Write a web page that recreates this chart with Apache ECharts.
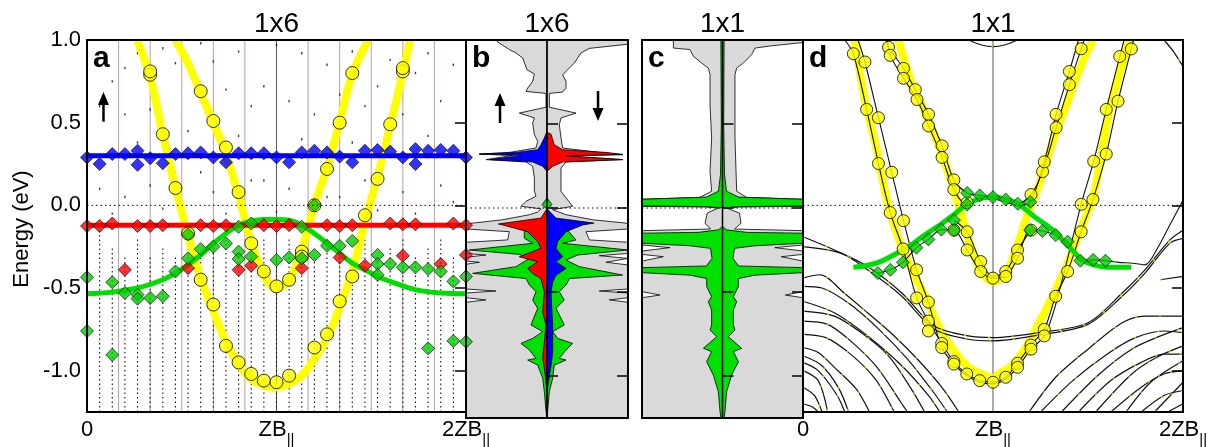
<!DOCTYPE html>
<html><head><meta charset="utf-8">
<script src="https://cdn.jsdelivr.net/npm/echarts@6/dist/echarts.min.js"></script>
<style>html,body{margin:0;padding:0;background:#fff}#c{width:1223px;height:447px}</style>
</head><body><div id="c"></div>
<script>
const FONT = '"Liberation Sans", Arial, Helvetica, sans-serif';
// ---------------- axis / labels ----------------
const Y_MIN = -1.25, Y_MAX = 1.0;
const yTicks = [-1.0, -0.5, 0.0, 0.5, 1.0];
const xTickLabels = [['0', ''], ['ZB', '||'], ['2ZB', '||']];
const titles = ['1x6', '1x6', '1x1', '1x1'];
const panelLetters = ['a', 'b', 'c', 'd'];
const yName = 'Energy (eV)';

// ---------------- panel a (1x6 bands, k index in 1/15 ZB) ----------------
const kPerZB = 15;
const aFoldK = [2.5, 5, 7.5, 10, 12.5, 17.5, 20, 22.5, 25, 27.5];
const aCenterK = [15];
const aBlue = [[0,0.29],[1,0.25],[2,0.31],[3,0.31],[4,0.33],[4,0.245],[5,0.285],[6,0.255],[7,0.31],[8,0.315],[9,0.32],[10,0.29],[11,0.26],[12,0.315],[13,0.315],[14,0.315],[15,0.29],[16,0.26],[17,0.32],[18,0.33],[19,0.32],[20,0.295],[21,0.26],[22,0.33],[23,0.335],[24,0.325],[25,0.29],[26,0.34],[26,0.25],[27,0.33],[28,0.335],[29,0.33],[30,0.29]];
const aRed = [[0,-0.125],[1,-0.125],[2,-0.11],[4,-0.125],[5,-0.125],[6,-0.12],[9,-0.12],[10,-0.125],[11,-0.12],[14,-0.12],[15,-0.125],[16,-0.12],[19,-0.12],[20,-0.125],[21,-0.12],[24,-0.11],[25,-0.115],[26,-0.115],[29,-0.11],[30,-0.12],
  [3,-0.39],[8,-0.38],[12,-0.39],[13,-0.365],[17,-0.38],[20,-0.315],[22,-0.365],[25,-0.305],[28,-0.355],[30,-0.30]];
const aGreen = [[0,-0.435],[0,-0.76],[2,-0.465],[2,-0.905],[3,-0.53],[4,-0.54],[4,-0.565],[5,-0.56],[6,-0.55],[7,-0.40],[8,-0.32],[8,-0.175],[9,-0.265],[10,-0.25],[11,-0.23],[12,-0.13],[12,-0.28],[12,-0.325],[13,-0.11],[13,-0.31],[15,-0.33],[16,-0.315],[17,-0.13],[17,-0.32],[18,-0.30],[18,0.0],[19,-0.245],[20,-0.245],[21,-0.215],[23,-0.30],[23,-0.355],[23,-0.42],[24,-0.355],[25,-0.375],[26,-0.375],[27,-0.385],[27,-0.865],[28,-0.40],[29,-0.46],[29,-0.82],[30,-0.43],[30,-0.825]];
const aCircles = [[5,0.79],[5,0.81],[6,0.43],[7,0.105],[8,-0.17],[9,0.69],[9,-0.45],[10,0.51],[10,-0.60],[11,0.35],[11,-0.85],[12,0.08],[12,-0.95],[13,-0.23],[13,-1.02],[14,-0.40],[14,-1.06],[15,-0.49],[15,-1.07],[16,-0.45],[16,-1.03],[17,-0.28],[17,-0.31],[18,0.0],[18,-0.86],[19,0.22],[19,-0.78],[20,0.50],[20,-0.58],[21,0.80],[21,-0.43],[22,-0.06],[23,0.16],[24,0.49],[25,0.81],[25,0.83]];
const aYellowWide = [[0.264,1.0],[0.333,0.78],[0.4,0.43],[0.467,0.11],[0.533,-0.18],[0.6,-0.44],[0.667,-0.64],[0.733,-0.82],[0.8,-0.96],[0.867,-1.05],[0.933,-1.09],[1.0,-1.1],[1.067,-1.08],[1.133,-1.03],[1.2,-0.93],[1.267,-0.8],[1.333,-0.62],[1.4,-0.4],[1.467,-0.1],[1.533,0.17],[1.6,0.48],[1.667,0.8],[1.705,1.0]];
const aYellowNarrow = [[0.465,1.0],[0.533,0.86],[0.6,0.68],[0.667,0.5],[0.733,0.31],[0.8,0.06],[0.867,-0.22],[0.933,-0.42],[1.0,-0.5],[1.067,-0.45],[1.133,-0.27],[1.2,0.0],[1.267,0.23],[1.333,0.5],[1.4,0.79],[1.485,1.0]];
const aBlueLine = [[0,0.30],[2,0.30]];
const aRedLine = [[0,-0.12],[2,-0.12]];
const aGreenLine = [[0,-0.535],[0.133,-0.525],[0.267,-0.5],[0.4,-0.45],[0.467,-0.41],[0.533,-0.36],[0.6,-0.30],[0.667,-0.23],[0.733,-0.17],[0.8,-0.12],[0.867,-0.095],[0.933,-0.085],[1.0,-0.085],[1.067,-0.09],[1.133,-0.12],[1.2,-0.17],[1.267,-0.23],[1.333,-0.29],[1.4,-0.35],[1.467,-0.39],[1.533,-0.43],[1.6,-0.46],[1.733,-0.51],[1.867,-0.53],[2.0,-0.535]];
const aDenseTop = [-0.55,-0.15,-0.25,-0.3,-0.2,-0.3,-0.25,-0.3,-0.2,-0.3,-0.25,-0.2,-0.3,-0.25,-0.2,-0.3,-0.2,-0.25,-0.3,-0.2,-0.25,-0.3,-0.2,-0.3,-0.25,-0.2,-0.3,-0.25,-0.2,-0.3,-0.45];
const aSparseDots = [[3,0.83],[3,0.55],[4,0.92],[5,0.58],[6,0.95],[7,0.86],[8,0.9],[9,0.98],[9,0.2],[10,0.87],[11,0.7],[12,0.93],[13,0.6],[14,0.72],[14,0.15],[15,0.97],[16,0.63],[17,0.92],[18,0.55],[19,0.85],[20,0.67],[21,0.93],[22,0.6],[23,0.72],[24,0.88],[25,0.55],[26,0.8],[27,0.92],[28,0.63],[29,0.85],[1,0.6],[2,0.75],[0,0.4],
  [1,0.1],[3,0.05],[5,0.12],[7,0.2],[10,0.08],[13,0.15],[16,0.1],[19,0.05],[22,0.15],[25,0.08],[28,0.12],[2,-0.05],[4,0.38],[6,-0.02],[8,0.45],[11,-0.05],[12,0.42],[15,-0.04],[17,0.4],[18,-0.06],[20,0.05],[21,0.38],[23,-0.03],[24,0.4],[26,-0.05],[27,0.42],[29,0.02],[30,0.45],[0,-0.05]];

// ---------------- panel b (1x6 DOS, left = spin up, right = spin down) ----------------
const bGrayUp = [[0,1.0],[-0.61,1.0],[-0.61,0.988],[-0.465,0.943],[-0.383,0.923],[-0.30,0.893],[-0.247,0.823],[-0.156,0.798],[-0.177,0.754],[-0.239,0.714],[-0.259,0.694],[-0.012,0.682],[-0.012,0.6],[-0.342,0.565],[-0.156,0.536],[-0.177,0.506],[-0.156,0.437],[-0.115,0.397],[-0.136,0.357],[-0.465,0.331],[-0.835,0.321],[-0.424,0.313],[-0.753,0.288],[-0.259,0.274],[-0.177,0.248],[-0.156,0.179],[-0.156,0.1],[-0.136,0.07],[-0.259,0.04],[-0.32,0.01],[-0.074,-0.005],[-0.115,-0.024],[-0.218,-0.04],[-0.547,-0.07],[-0.918,-0.09],[-1,-0.099],[-1,-0.125],[-0.465,-0.141],[-0.486,-0.19],[-1,-0.204],[-1,-0.27],[-0.753,-0.28],[-1,-0.293],[-1,-0.316],[-0.835,-0.323],[-1,-0.335],[-1,-0.482],[-0.63,-0.494],[-1,-0.506],[-1,-0.534],[-0.753,-0.547],[-1,-0.561],[-1,-1.25],[0,-1.25]];
const bGrayDown = [[0,1.0],[1,1.0],[1,0.975],[0.523,0.95],[0.42,0.923],[0.337,0.863],[0.255,0.823],[0.193,0.792],[0.235,0.754],[0.235,0.714],[0.193,0.69],[0.029,0.682],[0.029,0.6],[0.358,0.565],[0.173,0.536],[0.152,0.496],[0.173,0.417],[0.193,0.357],[0.646,0.331],[0.934,0.317],[0.235,0.31],[0.934,0.288],[0.235,0.274],[0.173,0.238],[0.173,0.1],[0.235,0.06],[0.317,0.01],[0.07,-0.01],[0.235,-0.04],[0.564,-0.07],[0.975,-0.09],[1,-0.099],[1,-0.125],[0.481,-0.141],[0.523,-0.19],[1,-0.204],[1,-0.27],[0.646,-0.284],[1,-0.3],[0.728,-0.323],[1,-0.339],[1,-0.482],[0.646,-0.494],[1,-0.506],[1,-0.534],[0.77,-0.547],[1,-0.561],[1,-1.25],[0,-1.25]];
const bBlueUp = [[0,0.456],[-0.033,0.417],[-0.074,0.377],[-0.115,0.347],[-0.383,0.331],[-0.835,0.321],[-0.30,0.313],[-0.712,0.288],[-0.177,0.274],[-0.053,0.248],[0,0.218]];
const bRedDown = [[0,0.45],[0.049,0.44],[0.09,0.377],[0.193,0.347],[0.728,0.331],[0.934,0.319],[0.235,0.31],[0.934,0.288],[0.193,0.274],[0.07,0.248],[0,0.218]];
const bRedUp = [[0,-0.005],[-0.074,-0.06],[-0.6,-0.095],[-0.547,-0.101],[-0.239,-0.141],[-0.115,-0.2],[-0.074,-0.24],[-0.342,-0.29],[-0.115,-0.32],[-0.239,-0.36],[-0.177,-0.39],[-0.074,-0.42],[-0.033,-0.5],[-0.053,-0.62],[-0.012,-0.70],[-0.053,-0.89],[-0.02,-1.0],[0,-1.09]];
const bBlueDown = [[0,-0.005],[0.111,-0.06],[0.58,-0.09],[0.44,-0.101],[0.235,-0.141],[0.132,-0.2],[0.111,-0.24],[0.193,-0.29],[0.111,-0.32],[0.235,-0.36],[0.111,-0.40],[0.07,-0.44],[0.049,-0.5],[0.07,-0.70],[0.07,-0.86],[0.049,-0.94],[0,-1.09]];
const bGreenUp = [[0,-0.10],[-0.28,-0.121],[-0.28,-0.18],[-0.177,-0.21],[-0.959,-0.25],[-0.342,-0.276],[-0.218,-0.3],[-0.383,-0.349],[-0.918,-0.389],[-0.259,-0.42],[-0.218,-0.458],[-0.136,-0.498],[-0.177,-0.548],[-0.115,-0.597],[-0.198,-0.696],[-0.053,-0.736],[-0.177,-0.776],[-0.321,-0.806],[-0.218,-0.845],[-0.136,-0.895],[-0.239,-0.905],[-0.115,-0.935],[-0.053,-1.014],[-0.033,-1.093],[-0.012,-1.21],[0,-1.25]];
const bGreenDown = [[0,-0.10],[0.235,-0.121],[0.358,-0.19],[0.193,-0.21],[1.0,-0.25],[0.379,-0.28],[0.235,-0.31],[0.4,-0.349],[0.934,-0.399],[0.276,-0.42],[0.235,-0.458],[0.152,-0.498],[0.214,-0.548],[0.111,-0.597],[0.214,-0.696],[0.07,-0.736],[0.132,-0.776],[0.317,-0.806],[0.235,-0.845],[0.152,-0.895],[0.235,-0.905],[0.09,-0.935],[0.07,-1.014],[0.029,-1.093],[0.008,-1.21],[0,-1.25]];
const bGreenNearEf = [[0,0.06],[-0.06,0.02],[-0.02,0.0],[0.02,0.0],[0.06,0.02]];

// ---------------- panel c (1x1 DOS) ----------------
const cGrayUp = [[0,1.0],[-0.61,1.0],[-0.61,0.952],[-0.404,0.943],[-0.362,0.903],[-0.259,0.863],[-0.176,0.833],[-0.155,0.794],[-0.155,0.615],[-0.135,0.417],[-0.155,0.218],[-0.135,0.1],[-0.28,0.063],[-1,0.052],[-1,0.01],[-0.2,0.006],[-0.05,0.0],[-0.19,-0.03],[-0.217,-0.09],[-0.15,-0.125],[-1,-0.135],[-1,-0.17],[-0.694,-0.184],[-1,-0.2],[-1,-0.22],[-0.652,-0.236],[-1,-0.256],[-1,-0.276],[-0.735,-0.29],[-1,-0.316],[-1,-0.498],[-0.776,-0.518],[-1,-0.534],[-1,-1.25],[0,-1.25]];
const cGrayDown = [[0,1.0],[1,1.0],[1,0.985],[0.6,0.965],[0.404,0.952],[0.362,0.913],[0.259,0.863],[0.176,0.833],[0.155,0.794],[0.155,0.417],[0.176,0.1],[0.3,0.063],[1,0.052],[1,0.01],[0.2,0.006],[0.05,0.0],[0.21,-0.03],[0.23,-0.09],[0.15,-0.125],[1,-0.135],[1,-0.17],[0.69,-0.184],[1,-0.2],[1,-0.22],[0.65,-0.236],[1,-0.256],[1,-0.276],[0.73,-0.29],[1,-0.316],[1,-0.498],[0.78,-0.518],[1,-0.534],[1,-1.25],[0,-1.25]];
const cGreenUpper = [[0,1.0],[-0.02,1.0],[-0.015,0.5],[-0.025,0.2],[-0.05,0.1],[-0.2,0.065],[-1,0.052],[-1,0.012],[-0.2,0.008],[0,0.0]];
const cGreenLower = [[0,-0.11],[-0.05,-0.13],[-0.3,-0.145],[-1,-0.15],[-1,-0.21],[-0.4,-0.225],[-0.15,-0.24],[-0.13,-0.30],[-0.2,-0.345],[-1,-0.355],[-1,-0.385],[-0.4,-0.40],[-0.197,-0.42],[-0.197,-0.468],[-0.135,-0.528],[-0.176,-0.558],[-0.135,-0.607],[-0.135,-0.696],[-0.155,-0.726],[-0.072,-0.766],[-0.238,-0.835],[-0.135,-0.855],[-0.197,-0.915],[-0.114,-0.994],[-0.052,-1.093],[-0.031,-1.21],[-0.02,-1.25],[0,-1.25]];

// ---------------- panel d (1x1 bands, x in ZB units) ----------------
const dYellowWide = [[0.273,1.0],[0.326,0.64],[0.388,0.34],[0.44,0.045],[0.5,-0.19],[0.573,-0.39],[0.644,-0.55],[0.714,-0.73],[0.785,-0.865],[0.873,-0.98],[0.96,-1.03],[1.0,-1.045],[1.03,-1.02],[1.1,-0.97],[1.173,-0.86],[1.243,-0.71],[1.314,-0.55],[1.393,-0.35],[1.464,-0.14],[1.526,0.05],[1.57,0.3],[1.614,0.58],[1.676,0.84],[1.72,1.0]];
const dYellowNarrow = [[0.503,1.0],[0.573,0.74],[0.644,0.56],[0.714,0.36],[0.776,0.16],[0.82,0.0],[0.873,-0.21],[0.935,-0.39],[1.0,-0.46],[1.067,-0.41],[1.12,-0.27],[1.19,-0.03],[1.243,0.125],[1.314,0.38],[1.384,0.6],[1.455,0.82],[1.526,1.0]];
const dGreenLine = [[0.265,-0.375],[0.33,-0.365],[0.397,-0.345],[0.47,-0.305],[0.556,-0.25],[0.64,-0.18],[0.732,-0.11],[0.8,-0.05],[0.855,0.0],[0.93,0.04],[1.0,0.05],[1.07,0.035],[1.137,0.005],[1.22,-0.07],[1.314,-0.15],[1.4,-0.25],[1.47,-0.33],[1.53,-0.36],[1.6,-0.374],[1.728,-0.374]];
const dDiamonds = [[0.394,-0.41],[0.46,-0.39],[0.526,-0.345],[0.597,-0.256],[0.66,-0.206],[0.728,-0.147],[0.795,-0.09],[0.795,-0.15],[0.864,0.005],[0.864,0.075],[0.93,0.06],[1.0,0.05],[1.067,0.035],[1.13,0.01],[1.196,0.02],[1.196,-0.15],[1.26,-0.155],[1.33,-0.18],[1.393,-0.22],[1.46,-0.335],[1.527,-0.33],[1.592,-0.335]];
const dCircles = [[0.265,0.917],[0.326,0.867],[0.335,0.58],[0.397,0.53],[0.397,0.253],[0.467,0.2],[0.459,-0.044],[0.529,-0.093],[0.527,-0.264],[0.598,-0.39],[0.598,-0.56],[0.66,-0.585],[0.66,-0.70],[0.66,-0.76],[0.73,-0.835],[0.73,-0.86],[0.794,-0.945],[0.794,-0.96],[0.862,-1.02],[0.93,-1.06],[1.0,-1.07],[1.067,-1.04],[1.129,-0.955],[1.129,-0.98],[1.2,-0.845],[1.2,-0.87],[1.27,-0.75],[1.27,-0.79],[1.33,-0.55],[1.393,-0.40],[1.464,-0.16],[1.464,0.006],[1.526,0.035],[1.53,0.267],[1.596,0.31],[1.596,0.58],[1.658,0.63],[1.667,0.90],[1.728,0.946],
  [0.45,0.956],[0.459,0.907],[0.529,0.828],[0.529,0.768],[0.591,0.70],[0.6,0.64],[0.661,0.55],[0.661,0.48],[0.732,0.36],[0.732,0.29],[0.794,0.154],[0.794,0.095],[0.864,0.016],[0.794,-0.15],[0.864,-0.16],[0.864,-0.27],[0.935,-0.34],[0.935,-0.40],[1.0,-0.44],[1.067,-0.40],[1.067,-0.43],[1.129,-0.27],[1.129,-0.32],[1.2,-0.15],[1.2,0.065],[1.261,0.204],[1.27,0.263],[1.332,0.47],[1.332,0.55],[1.402,0.73],[1.402,0.81],[1.464,0.947]];
const dFitBands = [
  [[0.22,1.0],[0.265,0.917],[0.335,0.58],[0.397,0.253],[0.459,-0.044],[0.527,-0.264],[0.598,-0.56],[0.66,-0.70],[0.73,-0.835],[0.794,-0.945],[0.862,-1.02],[0.93,-1.06],[1.0,-1.07],[1.067,-1.04],[1.129,-0.955],[1.2,-0.845],[1.27,-0.75],[1.33,-0.55],[1.393,-0.40],[1.464,-0.16],[1.526,0.035],[1.596,0.31],[1.658,0.63],[1.728,0.946],[1.74,1.0]],
  [[0.29,1.0],[0.326,0.867],[0.397,0.53],[0.467,0.2],[0.529,-0.093],[0.598,-0.39],[0.66,-0.585],[0.73,-0.86],[0.794,-0.96],[0.862,-1.03],[0.93,-1.07],[1.0,-1.08],[1.067,-1.05],[1.129,-0.98],[1.2,-0.87],[1.27,-0.79],[1.33,-0.6],[1.464,0.006],[1.53,0.267],[1.596,0.58],[1.667,0.9],[1.69,1.0]],
  [[0.437,1.0],[0.45,0.956],[0.529,0.828],[0.591,0.70],[0.661,0.55],[0.732,0.36],[0.794,0.154],[0.864,0.075],[0.93,0.06],[1.0,0.05],[1.067,0.035],[1.13,0.01],[1.2,0.065],[1.261,0.204],[1.332,0.47],[1.402,0.73],[1.464,0.947],[1.48,1.0]],
  [[0.445,1.0],[0.459,0.907],[0.529,0.768],[0.6,0.64],[0.661,0.48],[0.732,0.29],[0.794,0.095],[0.864,0.005],[0.93,0.045],[1.0,0.04],[1.067,0.02],[1.13,0.0],[1.196,0.02],[1.27,0.263],[1.332,0.55],[1.402,0.81],[1.45,1.0]],
  [[0.394,-0.41],[0.46,-0.39],[0.526,-0.345],[0.597,-0.256],[0.66,-0.206],[0.728,-0.147],[0.795,-0.15],[0.864,-0.27],[0.935,-0.40],[1.0,-0.44],[1.067,-0.43],[1.129,-0.32],[1.196,-0.15],[1.26,-0.155],[1.33,-0.18],[1.393,-0.22],[1.46,-0.335],[1.527,-0.33],[1.592,-0.335],[1.66,-0.345],[1.735,-0.35],[1.8,-0.36],[1.87,-0.25],[1.93,-0.12],[2.0,0.03]],
  [[0.795,-0.09],[0.864,-0.16],[0.935,-0.34],[1.0,-0.43],[1.067,-0.40],[1.129,-0.27],[1.2,-0.15]]
];
const dBulkBands = [
  [[0.87,1.0],[0.94,0.97],[1.0,0.96],[1.06,0.97],[1.13,1.0]],
  [[1.9,1.0],[1.95,0.93],[2.0,0.84]],
  [[0,-0.19],[0.165,-0.27],[0.34,-0.37],[0.52,-0.53],[0.69,-0.73],[0.87,-0.79],[1.0,-0.80],[1.24,-0.77],[1.5,-0.71],[1.68,-0.53],[1.8,-0.39],[1.93,-0.21],[2.0,-0.15]],
  [[0,-0.25],[0.2,-0.29],[0.34,-0.39],[0.52,-0.55],[0.69,-0.75],[0.87,-0.81],[1.0,-0.82],[1.24,-0.785],[1.5,-0.72],[1.68,-0.55],[1.8,-0.41],[1.93,-0.23],[2.0,-0.2]],
  [[0,-0.44],[0.09,-0.42],[0.216,-0.53],[0.34,-0.65],[0.48,-0.79],[0.61,-0.94],[0.73,-1.10],[0.82,-1.25]],
  [[0,-0.49],[0.1,-0.50],[0.25,-0.6],[0.4,-0.75],[0.55,-0.93],[0.68,-1.12],[0.76,-1.25]],
  [[0,-0.58],[0.165,-0.65],[0.34,-0.79],[0.52,-0.97],[0.66,-1.15],[0.72,-1.25]],
  [[0,-0.64],[0.165,-0.67],[0.306,-0.77],[0.45,-0.91],[0.57,-1.11],[0.64,-1.25]],
  [[0,-0.70],[0.13,-0.72],[0.25,-0.82],[0.39,-0.98],[0.52,-1.20],[0.55,-1.25]],
  [[0,-0.78],[0.12,-0.8],[0.25,-0.9],[0.38,-1.05],[0.48,-1.25]],
  [[0,-0.86],[0.08,-0.89],[0.165,-0.98],[0.28,-1.11],[0.35,-1.25]],
  [[0,-0.91],[0.1,-0.97],[0.19,-1.11],[0.24,-1.25]],
  [[0,-0.95],[0.08,-1.0],[0.18,-1.15],[0.22,-1.25]],
  [[0,-1.0],[0.08,-1.06],[0.13,-1.25]],
  [[0,-1.1],[0.06,-1.15],[0.1,-1.25]],
  [[0,-1.2],[0.05,-1.22],[0.08,-1.25]],
  [[1.19,-1.25],[1.33,-1.04],[1.5,-0.87],[1.68,-0.71],[1.8,-0.67],[2.0,-0.67]],
  [[1.25,-1.25],[1.42,-1.06],[1.6,-0.9],[1.75,-0.8],[1.9,-0.76],[2.0,-0.77]],
  [[1.36,-1.25],[1.56,-1.02],[1.73,-0.87],[1.86,-0.80],[2.0,-0.74]],
  [[1.45,-1.25],[1.62,-1.06],[1.78,-0.95],[1.9,-0.9],[2.0,-0.9]],
  [[1.54,-1.25],[1.73,-1.02],[1.86,-0.92],[2.0,-0.85]],
  [[1.62,-1.25],[1.78,-1.1],[1.9,-1.02],[2.0,-1.0]],
  [[1.7,-1.25],[1.83,-1.07],[2.0,-0.94]],
  [[1.78,-1.25],[1.9,-1.15],[2.0,-1.12]],
  [[1.85,-1.25],[2.0,-1.07]],
  [[1.92,-1.25],[2.0,-1.2]],
  [[1.88,-0.45],[2.0,-0.43]]
];
const spinArrows = [[0, 0.087, 0.506, 0.685], [1, -0.58, 0.506, 0.685], [1, 0.63, 0.696, 0.518]];

// ---------------- build chart ----------------
const grids = [
  {left: 87, top: 40, width: 379, height: 378},
  {left: 466, top: 40, width: 162, height: 378},
  {left: 642, top: 40, width: 161, height: 378},
  {left: 803, top: 40, width: 380, height: 378}
].map(g => Object.assign(g, {show: true, borderColor: '#000', borderWidth: 2, backgroundColor: 'transparent', z: 20}));

const xRanges = [[0, 2], [-1, 1], [-1, 1], [0, 2]];
const xAxes = xRanges.map((r, gi) => ({
  gridIndex: gi, type: 'value', min: r[0], max: r[1], interval: 1,
  axisLine: {show: false}, axisTick: {show: false}, splitLine: {show: false},
  axisLabel: {
    show: gi === 0 || gi === 3, margin: 7, color: '#000', showMinLabel: true, showMaxLabel: true,
    formatter: v => { const t = xTickLabels[Math.round(v)]; return '{m|' + t[0] + '}' + (t[1] ? '{s|' + t[1] + '}' : ''); },
    rich: {
      m: {fontSize: 22, fontFamily: FONT, color: '#000', lineHeight: 28, verticalAlign: 'top'},
      s: {fontSize: 15, fontFamily: FONT, color: '#000', lineHeight: 28, verticalAlign: 'bottom'}
    }
  }
}));
const tickShowLeft = [false, true, true, false];
const tickShowRight = [true, true, true, true];
const yAxes = [];
for (let gi = 0; gi < 4; gi++) {
  ['left', 'right'].forEach(pos => {
    yAxes.push({
      gridIndex: gi, type: 'value', min: Y_MIN, max: Y_MAX, position: pos, z: 21,
      axisLine: {show: false}, splitLine: {show: false},
      axisTick: {show: pos === 'left' ? tickShowLeft[gi] : tickShowRight[gi], inside: true, length: 11, customValues: yTicks, lineStyle: {color: '#000', width: 1.5}},
      axisLabel: {show: gi === 0 && pos === 'left', customValues: yTicks, formatter: v => v.toFixed(1), fontSize: 22, fontFamily: FONT, color: '#000', margin: 6}
    });
  });
}

const S = [];
const base = gi => ({xAxisIndex: gi, yAxisIndex: 2 * gi, silent: true, animation: false});
function lineS(gi, data, color, width, z, extra) {
  return Object.assign(base(gi), {type: 'line', data, symbol: 'none', z, lineStyle: {color, width}}, extra || {});
}
function vSeg(gi, segs, stroke, width, dash, z) {
  return Object.assign(base(gi), {type: 'custom', data: segs, clip: true, z,
    renderItem(p, api) {
      const a = api.coord([api.value(0), api.value(1)]), b = api.coord([api.value(0), api.value(2)]);
      return {type: 'line', shape: {x1: a[0], y1: a[1], x2: b[0], y2: b[1]}, style: {stroke, lineWidth: width, lineDash: dash}};
    }});
}
function poly(gi, pts, fill, sign, z) {
  return Object.assign(base(gi), {type: 'custom', data: [[0, 0]], clip: true, z,
    renderItem(p, api) {
      return {type: 'polygon', shape: {points: pts.map(q => api.coord([sign * q[0], q[1]]))}, style: {fill, stroke: '#000', lineWidth: 0.8}};
    }});
}
const kx = arr => arr.map(p => [p[0] / kPerZB, p[1]]);
const diamond = (gi, data, color, z, size) => Object.assign(base(gi), {type: 'scatter', data, symbol: 'diamond', symbolSize: size || 13, z, itemStyle: {color, borderColor: '#000', borderWidth: 0.8}});
const circle = (gi, data, z, size) => Object.assign(base(gi), {type: 'scatter', data, symbol: 'circle', symbolSize: size, z, itemStyle: {color: '#ffff00', borderColor: '#000', borderWidth: 1}});
const zeroLine = (gi, r) => lineS(gi, [[r[0], 0], [r[1], 0]], '#000', 1, 8, {lineStyle: {color: '#000', width: 1, type: [1.5, 3]}});

// panel a
S.push(vSeg(0, aFoldK.map(k => [k / kPerZB, Y_MIN, Y_MAX]), '#c49a9a', 1, null, 1));
S.push(vSeg(0, aCenterK.map(k => [k / kPerZB, Y_MIN, Y_MAX]), '#555', 1, null, 1));
S.push(vSeg(0, aDenseTop.map((t, k) => [k / kPerZB, Y_MIN, t]), '#111', 1.1, [1.5, 3], 2));
S.push(Object.assign(base(0), {type: 'scatter', data: kx(aSparseDots), symbol: 'rect', symbolSize: [1.4, 2.4], z: 2, itemStyle: {color: '#111'}}));
S.push(zeroLine(0, xRanges[0]));
S.push(lineS(0, aYellowWide, '#ffff00', 8, 3, {smooth: 0.4}));
S.push(lineS(0, aYellowNarrow, '#ffff00', 8, 3, {smooth: 0.4}));
S.push(lineS(0, aGreenLine, '#00dd00', 5, 4, {smooth: 0.4}));
S.push(lineS(0, aBlueLine, '#0000ff', 5, 5));
S.push(lineS(0, aRedLine, '#ff0000', 5, 5));
S.push(circle(0, kx(aCircles), 6, 13));
S.push(diamond(0, kx(aBlue), '#0000ff', 7));
S.push(diamond(0, kx(aRed), '#ff0000', 7));
S.push(diamond(0, kx(aGreen), '#00cc00', 7));

// panel b
S.push(poly(1, bGrayUp, '#d9d9d9', 1, 2));
S.push(poly(1, bGrayDown, '#d9d9d9', 1, 2));
S.push(poly(1, bGreenUp, '#00e000', 1, 3));
S.push(poly(1, bGreenDown, '#00e000', 1, 3));
S.push(poly(1, bGreenNearEf, '#00e000', 1, 3));
S.push(poly(1, bBlueUp, '#0000ff', 1, 4));
S.push(poly(1, bRedDown, '#ff0000', 1, 4));
S.push(poly(1, bRedUp, '#ff0000', 1, 4));
S.push(poly(1, bBlueDown, '#0000ff', 1, 4));
S.push(vSeg(1, [[0, Y_MIN, Y_MAX]], '#000', 1.5, null, 6));
S.push(zeroLine(1, xRanges[1]));

// panel c
S.push(poly(2, cGrayUp, '#d9d9d9', 1, 2));
S.push(poly(2, cGrayDown, '#d9d9d9', 1, 2));
[cGreenUpper, cGreenLower].forEach(g => { S.push(poly(2, g, '#00e000', 1, 3)); S.push(poly(2, g, '#00e000', -1, 3)); });
S.push(vSeg(2, [[0, Y_MIN, Y_MAX]], '#000', 1.5, null, 6));
S.push(zeroLine(2, xRanges[2]));

// panel d
S.push(vSeg(3, [[1, Y_MIN, Y_MAX]], '#555', 1, null, 1));
S.push(zeroLine(3, xRanges[3]));
S.push(lineS(3, dYellowWide, '#ffff00', 8, 3, {smooth: 0.4}));
S.push(lineS(3, dYellowNarrow, '#ffff00', 8, 3, {smooth: 0.4}));
dBulkBands.forEach(b => {
  S.push(lineS(3, b, '#111', 1.2, 4, {smooth: 0.3}));
  S.push(lineS(3, b, '#d8d800', 1.2, 4.5, {smooth: 0.3, lineStyle: {color: '#d8d800', width: 1.2, type: [2, 22]}}));
});
dFitBands.forEach(b => S.push(lineS(3, b, '#111', 1.1, 4, {smooth: 0.3})));
S.push(lineS(3, dGreenLine, '#00dd00', 5, 5, {smooth: 0.4}));
S.push(circle(3, dCircles, 6, 12));
S.push(diamond(3, dDiamonds, '#00cc00', 7, 13));

const gridCenters = grids.map(g => g.left + g.width / 2);
const graphics = [];
titles.forEach((t, i) => graphics.push({type: 'text', x: gridCenters[i], y: 24, style: {text: t, font: '28px ' + FONT, fill: '#000', align: 'center', verticalAlign: 'middle'}}));
panelLetters.forEach((t, i) => graphics.push({type: 'text', x: grids[i].left + 6, y: 44, style: {text: t, font: 'bold 30px ' + FONT, fill: '#000', align: 'left', verticalAlign: 'top'}}));
graphics.push({type: 'text', x: 22, y: 229, rotation: Math.PI / 2, style: {text: yName, font: '22px ' + FONT, fill: '#000', align: 'center', verticalAlign: 'middle'}});

const chart = echarts.init(document.getElementById('c'), null, {renderer: 'canvas'});
chart.setOption({animation: false, grid: grids, xAxis: xAxes, yAxis: yAxes, series: S, graphic: {elements: graphics}});

spinArrows.forEach(a => {
  const tail = chart.convertToPixel({gridIndex: a[0]}, [a[1], a[2]]);
  const tip = chart.convertToPixel({gridIndex: a[0]}, [a[1], a[3]]);
  const dir = tip[1] < tail[1] ? 1 : -1;
  graphics.push({type: 'line', z: 30, shape: {x1: tail[0], y1: tail[1], x2: tip[0], y2: tip[1] + dir * 8}, style: {stroke: '#000', lineWidth: 2.5}});
  graphics.push({type: 'polygon', z: 30, shape: {points: [[tip[0], tip[1]], [tip[0] - 5.5, tip[1] + dir * 13], [tip[0] + 5.5, tip[1] + dir * 13]]}, style: {fill: '#000'}});
});
chart.setOption({graphic: {elements: graphics}});
</script></body></html>
